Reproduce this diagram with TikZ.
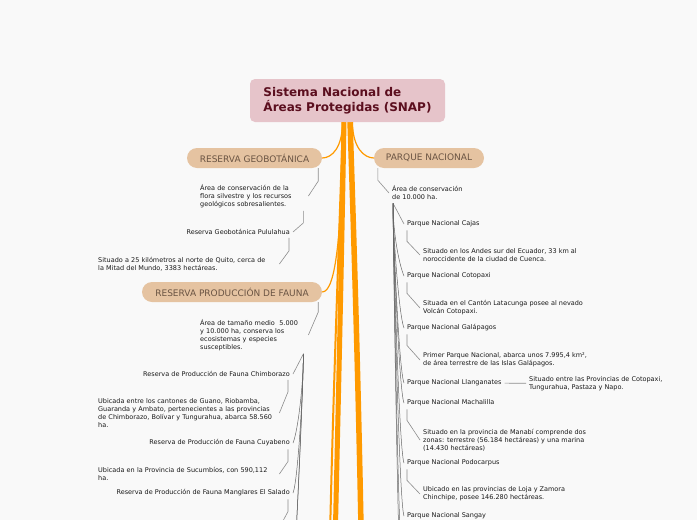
\documentclass[tikz,border=0pt]{standalone}
\usepackage{fontspec}
\setmainfont{DejaVu Sans}
\usetikzlibrary{positioning}
\definecolor{bgc}{HTML}{F9F9F9}
\definecolor{rootfill}{HTML}{E6C4CA}
\definecolor{roottext}{HTML}{5B0E1E}
\definecolor{pillfill}{HTML}{E5C3A1}
\definecolor{pilltext}{HTML}{6A5443}
\definecolor{branchorange}{HTML}{FF9A00}
\definecolor{linkgray}{HTML}{8C8C8C}

\begin{document}
\begin{tikzpicture}[x=1pt, y=-1pt,
    root/.style={fill=rootfill, rounded corners=5pt, minimum width=195pt, minimum height=43pt, align=left, text=roottext, font=\fontsize{12}{15}\selectfont\bfseries},
    pill/.style={fill=pillfill, rounded corners=10pt, minimum height=20pt, text=pilltext, font=\fontsize{9}{10}\selectfont},
    leaf/.style={font=\fontsize{6.5}{8}\selectfont, align=left, text=black!90, inner sep=3pt},
    branch/.style={draw=branchorange, line width=1.2pt},
    trunk/.style={draw=branchorange, line width=5pt},
    link/.style={draw=linkgray, line width=0.6pt},
    fanl/.style={draw=black!60, line width=0.5pt, to path={.. controls +(0,30) and +(5,-12) .. (\tikztotarget)}},
    fanr/.style={draw=black!60, line width=0.5pt, to path={.. controls +(0,30) and +(-5,-12) .. (\tikztotarget)}}
]
    \fill[bgc] (0,0) rectangle (697,520);
    \useasboundingbox (0,0) rectangle (697,520);
    \clip (0,0) rectangle (697,520);

    \coordinate (trunkLeft) at (333,640);
    \coordinate (trunkThin) at (328,640);
    \coordinate (trunkRight) at (363,640);
    \coordinate (manglaresInfo) at (276,534);
    \coordinate (faunaMore) at (289,620);
    \coordinate (faunaLast) at (286,680);
    \coordinate (parqueMore) at (404,600);
    \coordinate (parqueLast) at (404,660);

    \draw[trunk] (344,121) .. controls (341,300) and (337,450) .. (trunkLeft);
    \draw[branch, line width=2pt] (343,121) .. controls (337,300) and (331,450) .. (trunkThin);
    \draw[trunk, line width=5.5pt] (350,121) .. controls (356,300) and (360,450) .. (trunkRight);

    \node[root] (root) at (347.5,100.5) {Sistema Nacional de\\Áreas Protegidas (SNAP)};

    \node[pill, minimum width=135pt] (geo) at (254.5,158) {RESERVA GEOBOTÁNICA};
    \node[pill, minimum width=110pt] (parque) at (429,158) {PARQUE NACIONAL};
    \node[pill, minimum width=180pt] (fauna) at (232,292) {RESERVA PRODUCCIÓN DE FAUNA};

    \draw[branch] ([xshift=-5pt]root.south) .. controls +(0,25) and +(10,0) .. (geo.east);
    \draw[branch] ([xshift=5pt]root.south) .. controls +(0,25) and +(-10,0) .. (parque.west);
    \draw[branch] ([xshift=-4pt]root.south) .. controls +(-2,110) and +(14,0) .. (fauna.east);

    \node[leaf, text width=105pt, anchor=west] (geoArea) at (197,196) {Área de conservación de la\\flora silvestre y los recursos\\geológicos sobresalientes.};
    \node[leaf, anchor=east] (pululahua) at (293,232) {Reserva Geobotánica Pululahua};
    \node[leaf, text width=178pt, anchor=west] (pululahuaInfo) at (95,264) {Situado a 25 kilómetros al norte de Quito, cerca de\\la Mitad del Mundo, 3383 hectáreas.};

    \node[leaf, text width=105pt, anchor=west] (faunaArea) at (197,335) {Área de tamaño medio \ 5.000\\y 10.000 ha, conserva los\\ecosistemas y especies\\susceptibles.};
    \node[leaf, anchor=east] (chimborazo) at (293,374) {Reserva de Producción de Fauna Chimborazo};
    \node[leaf, text width=178pt, anchor=west] (chimborazoInfo) at (95,413) {Ubicada entre los cantones de Guano, Riobamba,\\Guaranda y Ambato, pertenecientes a las provincias\\de Chimborazo, Bolívar y Tungurahua, abarca 58.560\\ha.};
    \node[leaf, anchor=east] (cuyabeno) at (293,443) {Reserva de Producción de Fauna Cuyabeno};
    \node[leaf, text width=178pt, anchor=west] (cuyabenoInfo) at (95,474) {Ubicada en la Provincia de Sucumbíos, con 590,112\\ha.};
    \node[leaf, anchor=east] (manglares) at (293,493) {Reserva de Producción de Fauna Manglares El Salado};

    \node[leaf, anchor=west] (parqueArea) at (389,193) {Área de conservación\\de 10.000 ha.};
    \node[leaf, anchor=west] (cajas) at (404,224) {Parque Nacional Cajas};
    \node[leaf, anchor=west] (cajasInfo) at (420,255) {Situado en los Andes sur del Ecuador, 33 km al\\noroccidente de la ciudad de Cuenca.};
    \node[leaf, anchor=west] (cotopaxi) at (404,276) {Parque Nacional Cotopaxi};
    \node[leaf, anchor=west] (cotopaxiInfo) at (420,308) {Situada en el Cantón Latacunga posee al nevado\\Volcán Cotopaxi.};
    \node[leaf, anchor=west] (galapagos) at (404,328) {Parque Nacional Galápagos};
    \node[leaf, anchor=west] (galapagosInfo) at (420,360) {Primer Parque Nacional, abarca unos 7.995,4 km²,\\de área terrestre de las Islas Galápagos.};
    \node[leaf, anchor=west] (llanganates) at (404,383) {Parque Nacional Llanganates};
    \node[leaf, anchor=west] (llanganatesInfo) at (526,383.5) {Situado entre las Provincias de Cotopaxi,\\Tungurahua, Pastaza y Napo.};
    \node[leaf, anchor=west] (machalilla) at (404,403) {Parque Nacional Machalilla};
    \node[leaf, anchor=west] (machalillaInfo) at (420,440) {Situado en la provincia de Manabí comprende dos\\zonas: terrestre (56.184 hectáreas) y una marina\\(14.430 hectáreas)};
    \node[leaf, anchor=west] (podocarpus) at (404,463) {Parque Nacional Podocarpus};
    \node[leaf, anchor=west] (podocarpusInfo) at (420,494) {Ubicado en las provincias de Loja y Zamora\\Chinchipe, posee 146.280 hectáreas.};
    \node[leaf, anchor=west] (sangay) at (404,516) {Parque Nacional Sangay};

    \draw[link] ([xshift=-4pt]geo.south east) -- ++(0,13) -- (geoArea.east);
    \draw[link] ([xshift=-5pt]geoArea.south east) -- ++(0,12) -- (pululahua.east);
    \draw[link] ([xshift=-4pt]pululahua.south east) -- ++(0,13) -- (pululahuaInfo.east);

    \draw[link] ([xshift=-4pt]fauna.south east) -- ++(0,10) -- (faunaArea.east);
    \draw[link] ([xshift=-5pt]faunaArea.south east) -- (chimborazo.east);
    \draw[fanl] ([xshift=-5pt]faunaArea.south east) to (cuyabeno.east);
    \draw[fanl] ([xshift=-5pt]faunaArea.south east) to (manglares.east);
    \draw[fanl] ([xshift=-5pt]faunaArea.south east) to (faunaMore);
    \draw[fanl] ([xshift=-5pt]faunaArea.south east) to (faunaLast);
    \draw[link] ([xshift=-5pt]chimborazo.south east) -- ++(0,12) -- (chimborazoInfo.east);
    \draw[link] ([xshift=-5pt]cuyabeno.south east) -- ++(0,12) -- (cuyabenoInfo.east);
    \draw[link] ([xshift=-5pt]manglares.south east) -- ++(0,12) -- (manglaresInfo);

    \draw[link] ([xshift=4pt]parque.south west) -- ++(0,12) -- (parqueArea.west);
    \draw[link] ([xshift=4pt]parqueArea.south west) -- (cajas.west);
    \foreach \park in {cotopaxi, galapagos, llanganates, machalilla, podocarpus, sangay}
        \draw[fanr] ([xshift=4pt]parqueArea.south west) to (\park.west);
    \draw[fanr] ([xshift=4pt]parqueArea.south west) to (parqueMore);
    \draw[fanr] ([xshift=4pt]parqueArea.south west) to (parqueLast);
    \foreach \park in {cajas, cotopaxi, galapagos, machalilla, podocarpus}
        \draw[link] ([xshift=3pt]\park.south west) -- ++(0,11) -- (\park Info.west);
    \draw[link] (llanganates) -- (llanganatesInfo);
\end{tikzpicture}
\end{document}
